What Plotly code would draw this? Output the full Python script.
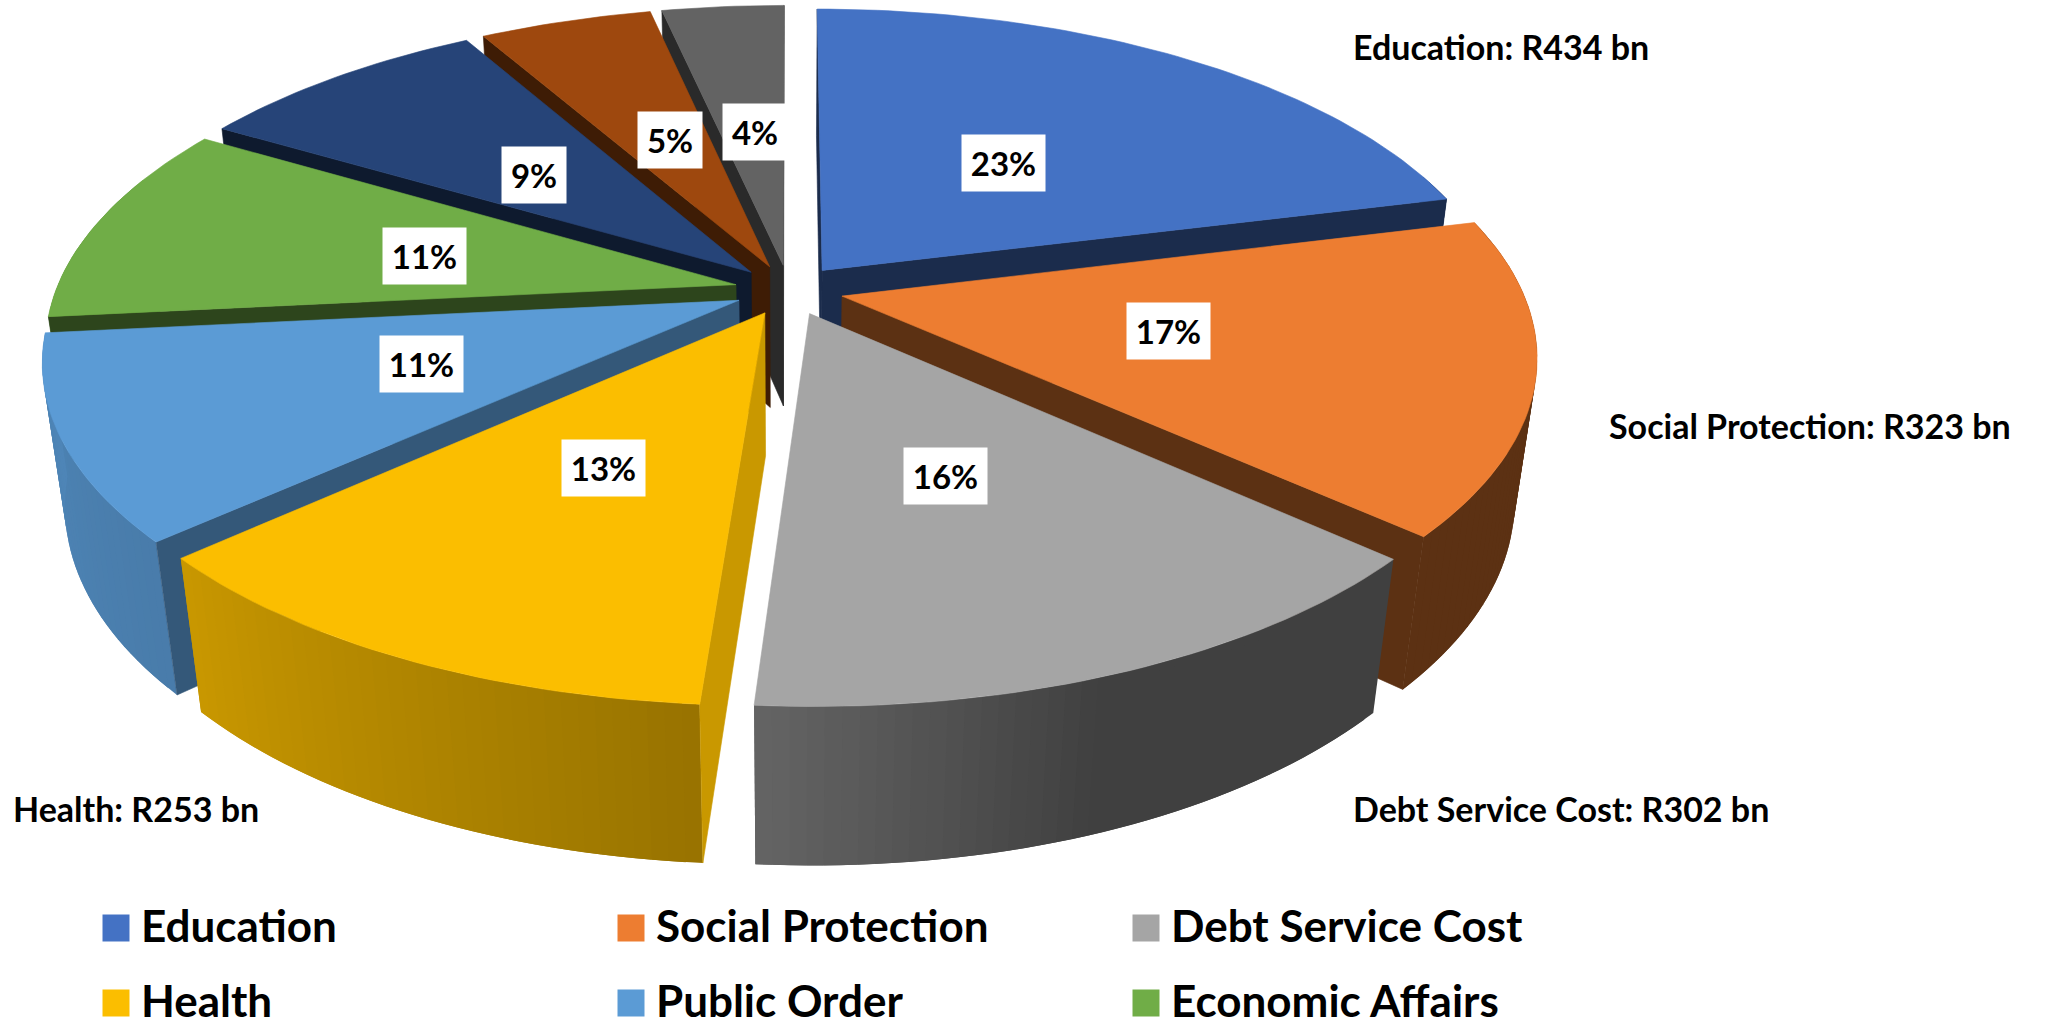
import math
import plotly.graph_objects as go

# ---- data ----
categories = ["Education", "Social Protection", "Debt Service Cost", "Health", "Public Order",
              "Economic Affairs", "Unnamed slice 7", "Unnamed slice 8", "Unnamed slice 9"]
shares = [23, 17, 15.74, 13.26, 11, 11, 9, 5.27, 3.73]
share_labels = ["23%", "17%", "16%", "13%", "11%", "11%", "9%", "5%", "4%"]
callouts = ["Education: R434 bn", "Social Protection: R323 bn", "Debt Service Cost: R302 bn", "Health: R253 bn"]
legend_names = categories[:6]

# ---- styles ----
top_colors = ["#4472C4", "#ED7D31", "#A5A5A5", "#FBBE00", "#5B9BD5", "#70AD47", "#264478", "#9E480E", "#636363"]
wall_shade = [0.39, 0.39, 0.39, 0.80, 0.57, 0.40, 0.38, 0.39, 0.42]
draw_order = [8, 7, 6, 5, 0, 4, 1, 3, 2]
FONT = "Lato, Carlito, Open Sans, sans-serif"

# ---- projection of the tilted pie (paper pixels) ----
CX, CY, AX, BY, KP, MZ, HZ, EXPLODE = 789, 290, 680, 314, 0.177, 0.03, 146, 0.08


def project(u, v, z=0.0):
    w = 1 + KP * v + MZ * z
    return CX + AX * u / w, CY - (BY * v - HZ * z) / w


def rim_shade(deg):
    stops = [(0, .39), (160, .39), (183, .60), (228, .80), (264, .86), (360, .86)]
    for (a0, s0), (a1, s1) in zip(stops, stops[1:]):
        if a0 <= deg <= a1:
            return s0 + (s1 - s0) * (deg - a0) / (a1 - a0)
    return stops[-1][1]


def shaded(hex_color, s):
    r, g, b = (int(hex_color[i:i + 2], 16) for i in (1, 3, 5))
    return f"rgb({round(r * s)},{round(g * s)},{round(b * s)})"


def polygon(points, color, edge=True):
    xs = [p[0] for p in points] + [points[0][0]]
    ys = [p[1] for p in points] + [points[0][1]]
    return go.Scatter(x=xs, y=ys, mode="lines" if edge else "none", fill="toself", fillcolor=color,
                      line=dict(color=color, width=0.6), hoverinfo="skip", showlegend=False)


def signed_area(points):
    return sum(p[0] * q[1] - q[0] * p[1] for p, q in zip(points, points[1:] + points[:1]))


total = sum(shares)
edges = [0]
for s in shares:
    edges.append(edges[-1] + s / total * 360)

fig = go.Figure()
for i in draw_order:
    a0, a1 = edges[i], edges[i + 1]
    mid = math.radians((a0 + a1) / 2)
    ou, ov = EXPLODE * math.sin(mid), EXPLODE * math.cos(mid)
    n = max(2, int((a1 - a0) / 1.2))
    angles = [a0 + (a1 - a0) * j / n for j in range(n + 1)]
    rim = [(ou + math.sin(math.radians(t)), ov + math.cos(math.radians(t))) for t in angles]
    base = top_colors[i]
    wall = shaded(base, wall_shade[i])
    # the outer wall, strip by strip so its shade can follow the angle; strips overlap to hide seams
    for j in range(n):
        (u0, v0), (u1, v1) = rim[j], rim[min(j + 2, n)]
        if v0 > 0.35 and v1 > 0.35:
            continue
        fig.add_trace(polygon([project(u0, v0), project(u1, v1), project(u1, v1, 1), project(u0, v0, 1)],
                              shaded(base, rim_shade((angles[j] + angles[j + 1]) / 2)), edge=False))
    # the cut faces that look towards the viewer
    for (u, v), sign in ((rim[0], -1), (rim[-1], 1)):
        face = [project(ou, ov), project(u, v), project(u, v, 1), project(ou, ov, 1)]
        if signed_area(face) * sign > 0:
            fig.add_trace(polygon(face, wall))
    # the top face
    fig.add_trace(polygon([project(ou, ov)] + [project(u, v) for u, v in rim], base))

# percentage boxes
pct_xy = [(1003, 163), (1168, 331), (945, 476), (603, 468), (421, 364), (424, 256), (534, 175), (670, 140), (755, 132)]
for text, (x, y) in zip(share_labels, pct_xy):
    fig.add_annotation(x=x, y=y, text=text, showarrow=False, bgcolor="white",
                       width=81 if len(text) == 3 else 62, height=54,
                       font=dict(family=FONT, size=33, color="black", weight="bold"))

# call-out labels
callout_xy = [(1351, 46), (1607, 425), (1351, 808), (11, 808)]
for text, (x, y) in zip(callouts, callout_xy):
    fig.add_annotation(x=x, y=y, text=text, showarrow=False, xanchor="left",
                       font=dict(family=FONT, size=34, color="black", weight="bold"))

# legend, laid out as in the reference (three columns, two visible rows)
legend_xy = [(102, 928), (617, 928), (1132, 928), (102, 1003), (617, 1003), (1132, 1003)]
for k, (name, (x, y)) in enumerate(zip(legend_names, legend_xy)):
    fig.add_trace(go.Scatter(x=[x + 14], y=[y], mode="markers", hoverinfo="skip", showlegend=False,
                             marker=dict(symbol="square", size=27, color=top_colors[k])))
    fig.add_annotation(x=x + 37, y=y - 3, text=name, showarrow=False, xanchor="left", height=34,
                       font=dict(family=FONT, size=44, color="black", weight="bold"))

fig.update_layout(width=2045, height=1018, autosize=False, margin=dict(l=0, r=0, t=0, b=0),
                  paper_bgcolor="white", plot_bgcolor="white", showlegend=False,
                  xaxis=dict(range=[0, 2045], visible=False, fixedrange=True),
                  yaxis=dict(range=[1018, 0], visible=False, fixedrange=True))
fig.write_html("out.html", config=dict(displayModeBar=False),
               post_script="document.body.style.margin='0';")
